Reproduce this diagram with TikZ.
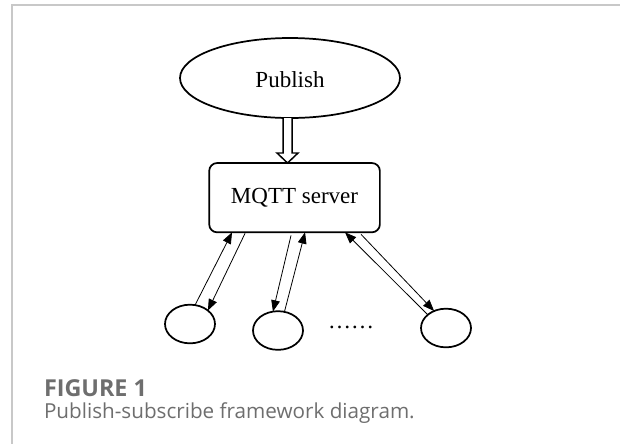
\documentclass[tikz,border=0pt]{standalone}
\usepackage{fontspec}
\setmainfont{Liberation Serif}
\newfontfamily\capfont{Open Sans}
\usetikzlibrary{shapes.geometric, positioning, calc, arrows.meta}

\definecolor{framegray}{HTML}{C8C8C8}
\definecolor{capgray}{HTML}{6E6E6E}

\begin{document}
\begin{tikzpicture}[x=0.75pt,y=-0.75pt]
\tikzstyle{every node}=[font=\fontsize{17.25}{20}\selectfont, inner sep=0pt, outer sep=0pt]
\tikzstyle{pubnode}=[ellipse, draw, line width=1.3pt, minimum width=165pt, minimum height=60pt, text height=14.5pt]
\tikzstyle{srvnode}=[rectangle, rounded corners=6pt, draw, line width=1.3pt, minimum width=128pt, minimum height=52pt]
\tikzstyle{client}=[ellipse, draw, line width=1.3pt, minimum width=37.5pt, minimum height=29pt]
\tikzstyle{link}=[draw, line width=0.6pt, -{Triangle[length=8.5pt,width=6.5pt]}]
\tikzstyle{caption}=[anchor=base west, text=capgray]

\useasboundingbox (0,0) rectangle (620,444);
% frame
\draw[line width=1.1pt, framegray] (620,5) -- (12,5) -- (12,444);

\node[pubnode] (pub) at (290,78) {Publish};
\node[srvnode, below=33.75pt of pub, xshift=3.4pt] (srv) {MQTT server};

\node[client] (c1) at (190,324) {};
\node[client] (c2) at (278,330.5) {};
\node[client] (c3) at (446,328) {};
\node[anchor=base] (dots) at (351,328.5) {……};

% hollow arrow publish -> server
\coordinate (tip) at ($(srv.north)+(-7,0)$);
\draw[line width=1.1pt, fill=white] ($(pub.south -| tip)+(-4.5,0)$) -- ($(tip)+(-4.5,-10)$)
  -- ($(tip)+(-10.5,-10)$) -- (tip) -- ($(tip)+(10.5,-10)$) -- ($(tip)+(4.5,-10)$)
  -- ($(pub.south -| tip)+(4.5,0)$);

\draw[link] (c1.75) -- ($(srv.south)+(-62.5,0)$);
\draw[link] ($(srv.south)+(-49.5,1)$) -- (c1.37);
\draw[link] ($(srv.south)+(-3.5,3)$) -- (c2.105);
\draw[link] (c2.71) -- ($(srv.south)+(10.5,0)$);
\draw[link] (c3.144) -- ($(srv.south)+(50.5,0)$);
\draw[link] ($(srv.south)+(66.5,2)$) -- (c3.125);

\node[caption, font=\capfont\bfseries\fontsize{17.5}{20}\selectfont] (fig) at (44,396) {FIGURE 1};
\node[caption, font=\capfont\fontsize{15.5}{18}\selectfont] (cap) at (44,418) {Publish-subscribe framework diagram.};
\end{tikzpicture}
\end{document}
